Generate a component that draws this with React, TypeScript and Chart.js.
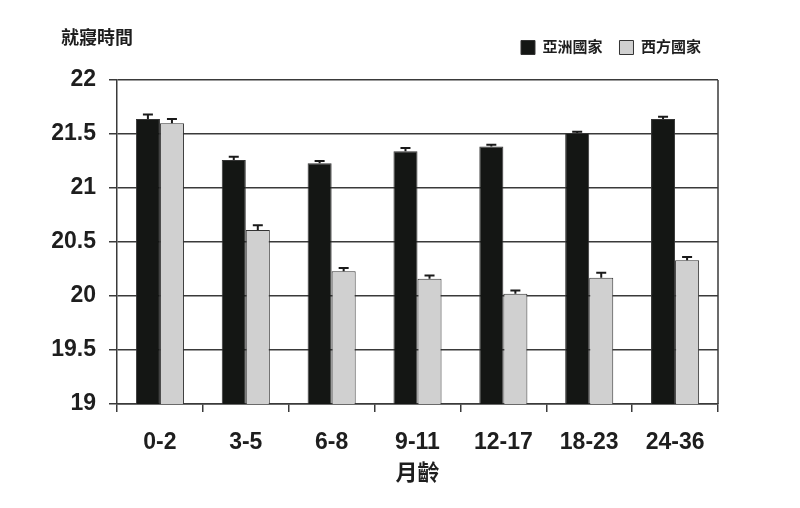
import { useEffect, useRef } from "react";
import { Chart, registerables } from "chart.js";
import type { ChartConfiguration, Plugin } from "chart.js";

Chart.register(...registerables);

const categories = ["0-2", "3-5", "6-8", "9-11", "12-17", "18-23", "24-36"];
const asiaValues = [21.64, 21.26, 21.23, 21.34, 21.385, 21.51, 21.64];
const asiaErrors = [0.04, 0.03, 0.02, 0.03, 0.015, 0.01, 0.02];
const westValues = [21.6, 20.61, 20.23, 20.16, 20.02, 20.17, 20.33];
const westErrors = [0.04, 0.045, 0.03, 0.03, 0.03, 0.045, 0.03];
const seriesNames = ["亞洲國家", "西方國家"];
const yTitle = "就寢時間";
const xTitle = "月齡";

const FONT = "'Liberation Sans', 'Noto Sans CJK TC', Arial, sans-serif";
const TEXT = "#1e1e1e";
const LINE = "#3a3a3a";

// error bars, frame on the right and the top-left axis caption
const extrasPlugin: Plugin<"bar"> = {
  id: "extras",
  afterDatasetsDraw(chart) {
    const { ctx, chartArea, scales } = chart;
    const errs = [asiaErrors, westErrors];
    ctx.save();
    ctx.strokeStyle = "#1a1a1a";
    ctx.lineWidth = 2;
    chart.data.datasets.forEach((ds, di) => {
      const meta = chart.getDatasetMeta(di);
      meta.data.forEach((bar, i) => {
        const v = ds.data[i] as number;
        const yTop = scales.y.getPixelForValue(v + errs[di][i]);
        const yBar = scales.y.getPixelForValue(v);
        ctx.beginPath();
        ctx.moveTo(bar.x, yBar);
        ctx.lineTo(bar.x, yTop);
        ctx.moveTo(bar.x - 5, yTop);
        ctx.lineTo(bar.x + 5, yTop);
        ctx.stroke();
      });
    });
    ctx.strokeStyle = LINE;
    ctx.lineWidth = 1.5;
    ctx.beginPath();
    ctx.moveTo(chartArea.right, chartArea.top);
    ctx.lineTo(chartArea.right, chartArea.bottom);
    ctx.stroke();

    ctx.fillStyle = TEXT;
    ctx.font = `bold 18px ${FONT}`;
    ctx.textAlign = "left";
    ctx.textBaseline = "middle";
    ctx.fillText(yTitle, 61, 39);
    ctx.restore();
  },
};

export default function App() {
  const canvasRef = useRef<HTMLCanvasElement>(null);
  const chartRef = useRef<Chart<"bar"> | null>(null);

  useEffect(() => {
    document.body.style.margin = "0";
    if (!canvasRef.current) return;

    const config: ChartConfiguration<"bar"> = {
      type: "bar",
      data: {
        labels: categories,
        datasets: [
          {
            label: seriesNames[0],
            data: asiaValues,
            backgroundColor: "#141614",
            borderColor: "#333333",
            borderWidth: 1,
            categoryPercentage: 0.56,
            barPercentage: 1,
          },
          {
            label: seriesNames[1],
            data: westValues,
            backgroundColor: "#d0d0d0",
            borderColor: "#333333",
            borderWidth: 1,
            categoryPercentage: 0.56,
            barPercentage: 1,
          },
        ],
      },
      options: {
        responsive: false,
        animation: false,
        layout: { padding: { top: 23, right: 82, bottom: 0, left: 0 } },
        plugins: {
          title: { display: false },
          tooltip: { enabled: false },
          legend: {
            display: true,
            position: "top",
            align: "end",
            labels: {
              boxWidth: 14,
              boxHeight: 14,
              padding: 17,
              color: TEXT,
              font: { family: FONT, size: 15, weight: "bold" },
            },
          },
        },
        scales: {
          x: {
            afterFit: (scale) => {
              scale.height = 104;
            },
            grid: {
              display: true,
              offset: true,
              drawOnChartArea: false,
              drawTicks: true,
              tickLength: 8,
              color: LINE,
              lineWidth: 1.5,
            },
            border: { display: true, color: LINE, width: 1.5 },
            ticks: {
              color: TEXT,
              padding: 17,
              font: { family: FONT, size: 23, weight: "bold" },
            },
            title: {
              display: true,
              text: xTitle,
              color: TEXT,
              padding: { top: 0, bottom: 21 },
              font: { family: FONT, size: 22, weight: "bold" },
            },
          },
          // empty top axis, only keeps a gap between legend and plot
          gap: {
            type: "category",
            position: "top",
            afterFit: (scale) => {
              scale.height = 15;
            },
            grid: { display: false },
            border: { display: false },
            ticks: { display: false },
          },
          y: {
            min: 19,
            max: 22,
            afterFit: (scale) => {
              scale.width = 117;
            },
            grid: {
              color: LINE,
              lineWidth: 1.5,
              drawTicks: true,
              tickLength: 8,
            },
            border: { display: true, color: LINE, width: 1.5 },
            ticks: {
              stepSize: 0.5,
              color: TEXT,
              padding: 13,
              font: { family: FONT, size: 23, weight: "bold" },
              callback: (v) => `${v}`,
            },
          },
        },
      },
      plugins: [extrasPlugin],
    };

    chartRef.current = new Chart(canvasRef.current, config);

    return () => {
      if (chartRef.current) {
        chartRef.current.destroy();
        chartRef.current = null;
      }
    };
  }, []);

  return (
    <div style={{ width: 800, height: 508, background: "#ffffff" }}>
      <canvas ref={canvasRef} width={800} height={508}></canvas>
    </div>
  );
}
